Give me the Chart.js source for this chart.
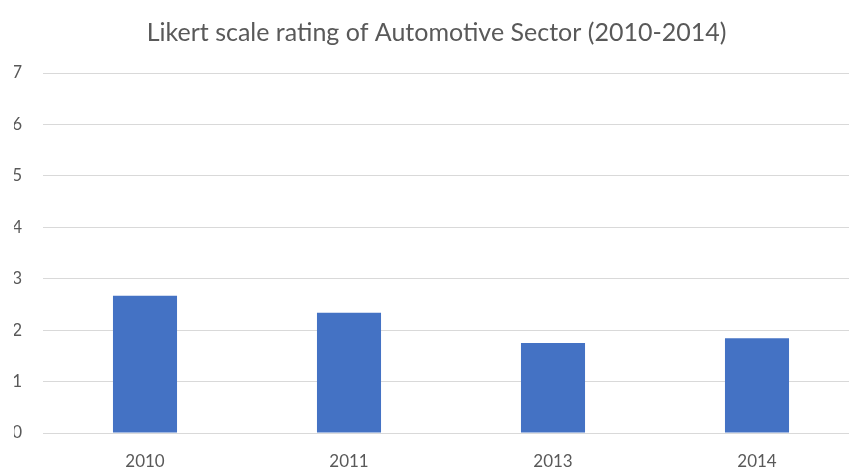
<!DOCTYPE html>
<html>
<head>
<meta charset="utf-8">
<script src="https://cdn.jsdelivr.net/npm/chart.js@4"></script>
<style>
  html, body { margin: 0; padding: 0; background: #fff; overflow: hidden; }
  #wrap { width: 849px; height: 467px; overflow: hidden; }
  #box { width: 882px; height: 480px; }
</style>
</head>
<body>
<div id="wrap"><div id="box"><canvas id="chart"></canvas></div></div>
<script>
// years and average rating per year
let years = ["2010", "2011", "2013", "2014"];
let ratings = [2.67, 2.34, 1.75, 1.84];
let yTicks = [0, 1, 2, 3, 4, 5, 6, 7];

let grey = "#595959";
let font = "Lato, 'Open Sans', sans-serif";

let ctx = document.getElementById("chart").getContext("2d");

let chart = new Chart(ctx, {
  type: "bar",
  data: {
    labels: years,
    datasets: [{
      data: ratings,
      backgroundColor: "#4472C4",
      borderWidth: 0,
      barPercentage: 0.314,
      categoryPercentage: 1
    }]
  },
  options: {
    responsive: true,
    maintainAspectRatio: false,
    animation: false,
    layout: { padding: { left: 14, right: 23, top: 0, bottom: 10 } },
    plugins: {
      legend: { display: false },
      tooltip: { enabled: false },
      title: {
        display: true,
        text: "Likert scale rating of Automotive Sector (2010-2014)",
        color: grey,
        font: { family: font, size: 25, weight: "normal" },
        padding: { top: 18, bottom: 25 }
      }
    },
    scales: {
      x: {
        grid: { display: false },
        border: { display: false },
        ticks: { color: grey, font: { family: font, size: 17 }, padding: 10 },
        afterFit: axis => { axis.height = 37; }
      },
      y: {
        min: 0,
        max: 7,
        afterBuildTicks: axis => { axis.ticks = yTicks.map(v => ({ value: v })); },
        grid: { color: "#d9d9d9", drawTicks: false },
        border: { display: false },
        ticks: { color: grey, font: { family: font, size: 17 }, padding: 21 },
        afterFit: axis => { axis.width = 29; }
      }
    }
  }
});
</script>
</body>
</html>
